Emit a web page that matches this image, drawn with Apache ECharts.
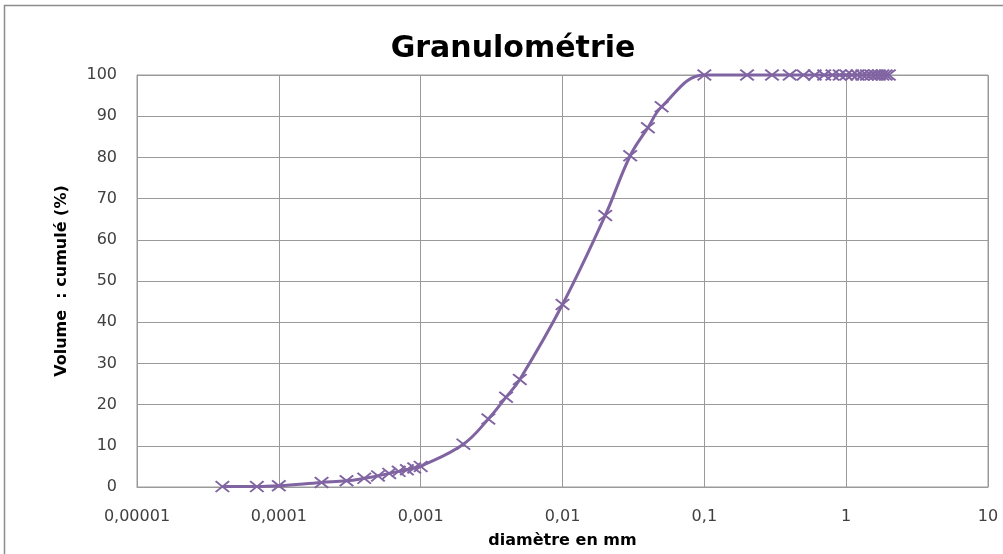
<!DOCTYPE html>
<html>
<head>
<meta charset="utf-8">
<script src="https://cdn.jsdelivr.net/npm/echarts@6/dist/echarts.min.js"></script>
<style>
  html, body { margin: 0; padding: 0; background: #fff; }
  #chart { width: 1003px; height: 554px; }
</style>
</head>
<body>
<div id="chart"></div>
<script>
// Particle diameters (mm) and cumulative volume (%)
const diametres = [
  0.00004, 0.00007, 0.0001, 0.0002, 0.0003, 0.0004, 0.0005, 0.0006, 0.0007, 0.0008, 0.0009,
  0.001, 0.002, 0.003, 0.004, 0.005, 0.01, 0.02, 0.03, 0.04, 0.05,
  0.1, 0.2, 0.3, 0.4, 0.5, 0.6, 0.7, 0.8, 0.9,
  1, 1.1, 1.2, 1.3, 1.4, 1.5, 1.6, 1.7, 1.8, 1.9, 2
];
const volumeCumule = [
  0.1, 0.1, 0.3, 1.1, 1.5, 2.1, 2.7, 3.3, 3.8, 4.2, 4.6,
  5.0, 10.4, 16.5, 21.8, 26.1, 44.3, 65.9, 80.4, 87.2, 92.3,
  100, 100, 100, 100, 100, 100, 100, 100, 100,
  100, 100, 100, 100, 100, 100, 100, 100, 100, 100, 100
];
// Decade tick labels on the diameter axis
const xTickLabels = {
  '-5': '0,00001', '-4': '0,0001', '-3': '0,001', '-2': '0,01',
  '-1': '0,1', '0': '1', '1': '10'
};

const purple = '#8064A2';
const gridColor = '#9a9a9a';
const crossPath = 'path://M0,1L1,0L5,4L9,0L10,1L6,5L10,9L9,10L5,6L1,10L0,9L4,5Z';

const chart = echarts.init(document.getElementById('chart'), null, { renderer: 'canvas' });

chart.setOption({
  animation: false,
  backgroundColor: '#fff',
  title: {
    text: 'Granulométrie',
    left: 508,
    top: 29,
    textAlign: 'center',
    textStyle: { fontFamily: 'DejaVu Sans', fontWeight: 'bold', fontSize: 30, color: '#000' }
  },
  graphic: [{
    type: 'rect',
    shape: { x: 4.5, y: 5.5, width: 1100, height: 700 },
    style: { fill: 'none', stroke: '#8c8c8c', lineWidth: 1.5 },
    silent: true,
    z: -1
  }],
  grid: {
    left: 137, right: 15, top: 75, bottom: 66,
    show: true, borderColor: gridColor, borderWidth: 1
  },
  xAxis: {
    type: 'log',
    logBase: 10,
    min: 0.00001,
    max: 10,
    name: 'diamètre en mm',
    nameLocation: 'middle',
    nameGap: 46,
    nameTextStyle: { fontFamily: 'DejaVu Sans', fontWeight: 'bold', fontSize: 16, color: '#000' },
    axisLine: { show: true, lineStyle: { color: gridColor } },
    axisTick: { show: false },
    splitLine: { show: true, lineStyle: { color: gridColor, width: 1 } },
    minorTick: { show: false },
    axisLabel: {
      margin: 22,
      fontFamily: 'DejaVu Sans', fontSize: 16, color: '#404040',
      formatter: v => {
        const e = Math.round(Math.log10(v));
        return xTickLabels[String(e)] || '';
      }
    }
  },
  yAxis: {
    type: 'value',
    min: 0,
    max: 100,
    interval: 10,
    name: 'Volume  : cumulé (%)',
    nameLocation: 'middle',
    nameGap: 67,
    nameTextStyle: { fontFamily: 'DejaVu Sans', fontWeight: 'bold', fontSize: 16, color: '#000' },
    axisLine: { show: true, lineStyle: { color: gridColor } },
    axisTick: { show: false },
    splitLine: { show: true, lineStyle: { color: gridColor, width: 1 } },
    axisLabel: { margin: 20, fontFamily: 'DejaVu Sans', fontSize: 16, color: '#404040' }
  },
  series: [{
    type: 'line',
    data: diametres.map((d, i) => [d, volumeCumule[i]]),
    smooth: 0.4,
    symbol: crossPath,
    symbolSize: [15, 12],
    showAllSymbol: true,
    lineStyle: { color: purple, width: 3 },
    itemStyle: { color: purple },
    clip: false
  }]
});
</script>
</body>
</html>
